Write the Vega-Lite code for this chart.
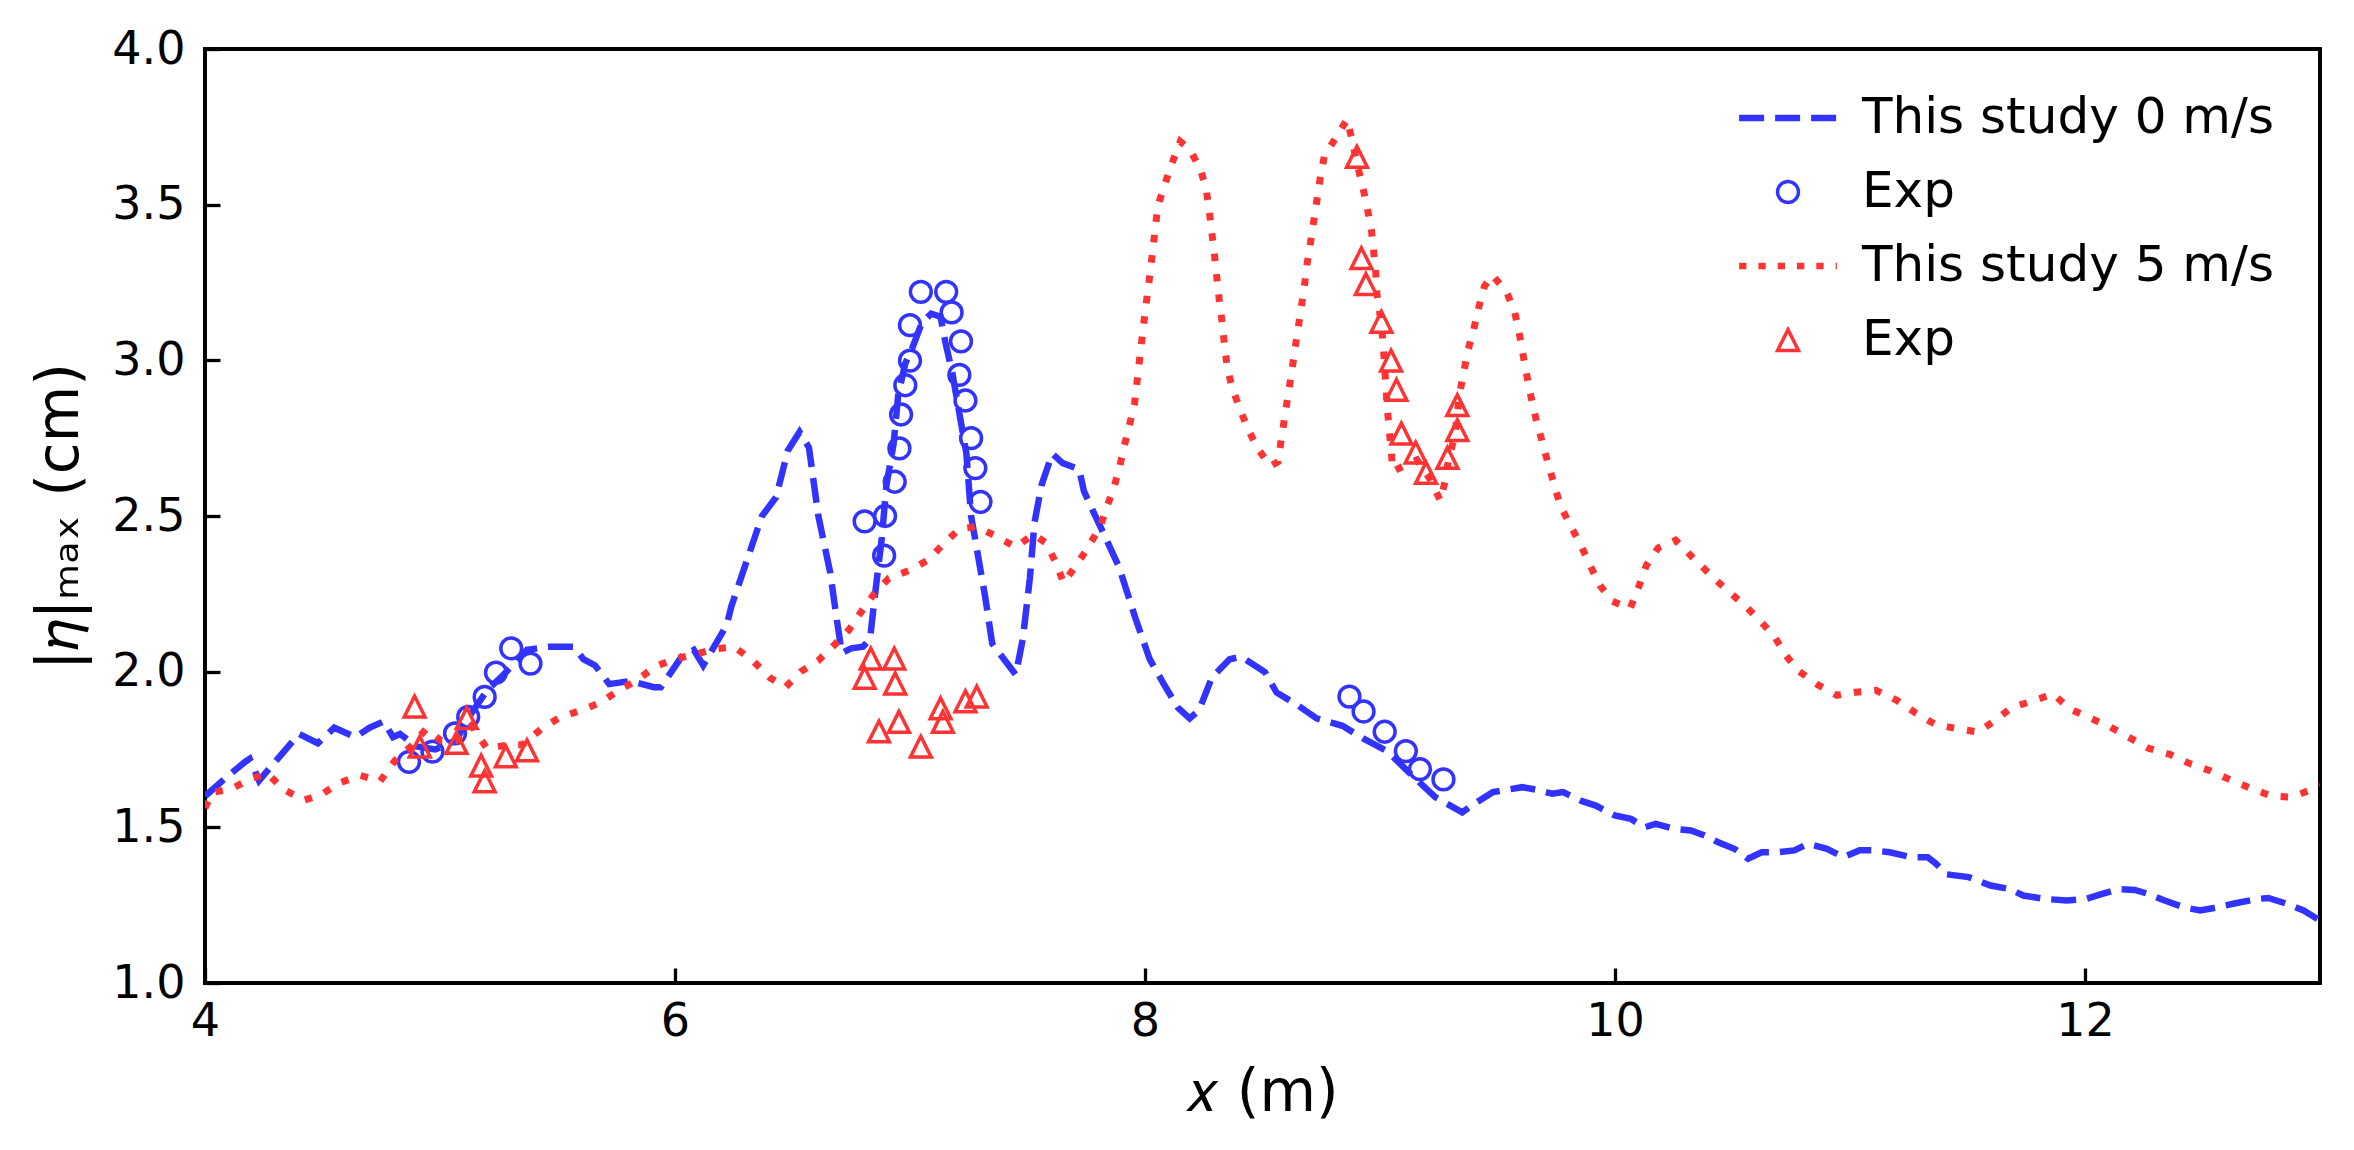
{
  "$schema": "https://vega.github.io/schema/vega-lite/v6.json",
  "width": 2115,
  "height": 934,
  "autosize": "none",
  "padding": {"left": 205, "top": 49, "right": 34, "bottom": 167},
  "background": "white",
  "data": {
    "values": [
      {"x": 4.00, "y": 1.60, "series": "sim0"},
      {"x": 4.03, "y": 1.62, "series": "sim0"},
      {"x": 4.09, "y": 1.66, "series": "sim0"},
      {"x": 4.17, "y": 1.71, "series": "sim0"},
      {"x": 4.19, "y": 1.72, "series": "sim0"},
      {"x": 4.23, "y": 1.65, "series": "sim0"},
      {"x": 4.40, "y": 1.80, "series": "sim0"},
      {"x": 4.48, "y": 1.77, "series": "sim0"},
      {"x": 4.55, "y": 1.82, "series": "sim0"},
      {"x": 4.64, "y": 1.79, "series": "sim0"},
      {"x": 4.70, "y": 1.82, "series": "sim0"},
      {"x": 4.76, "y": 1.84, "series": "sim0"},
      {"x": 4.80, "y": 1.79, "series": "sim0"},
      {"x": 4.83, "y": 1.80, "series": "sim0"},
      {"x": 4.90, "y": 1.76, "series": "sim0"},
      {"x": 4.98, "y": 1.75, "series": "sim0"},
      {"x": 5.07, "y": 1.78, "series": "sim0"},
      {"x": 5.11, "y": 1.84, "series": "sim0"},
      {"x": 5.20, "y": 1.94, "series": "sim0"},
      {"x": 5.27, "y": 1.99, "series": "sim0"},
      {"x": 5.37, "y": 2.07, "series": "sim0"},
      {"x": 5.46, "y": 2.08, "series": "sim0"},
      {"x": 5.57, "y": 2.08, "series": "sim0"},
      {"x": 5.61, "y": 2.04, "series": "sim0"},
      {"x": 5.66, "y": 2.02, "series": "sim0"},
      {"x": 5.72, "y": 1.96, "series": "sim0"},
      {"x": 5.81, "y": 1.97, "series": "sim0"},
      {"x": 5.91, "y": 1.95, "series": "sim0"},
      {"x": 5.94, "y": 1.95, "series": "sim0"},
      {"x": 6.03, "y": 2.05, "series": "sim0"},
      {"x": 6.08, "y": 2.07, "series": "sim0"},
      {"x": 6.12, "y": 2.02, "series": "sim0"},
      {"x": 6.22, "y": 2.15, "series": "sim0"},
      {"x": 6.24, "y": 2.21, "series": "sim0"},
      {"x": 6.37, "y": 2.50, "series": "sim0"},
      {"x": 6.43, "y": 2.56, "series": "sim0"},
      {"x": 6.48, "y": 2.71, "series": "sim0"},
      {"x": 6.53, "y": 2.77, "series": "sim0"},
      {"x": 6.57, "y": 2.72, "series": "sim0"},
      {"x": 6.61, "y": 2.50, "series": "sim0"},
      {"x": 6.66, "y": 2.32, "series": "sim0"},
      {"x": 6.69, "y": 2.16, "series": "sim0"},
      {"x": 6.71, "y": 2.06, "series": "sim0"},
      {"x": 6.75, "y": 2.075, "series": "sim0"},
      {"x": 6.80, "y": 2.08, "series": "sim0"},
      {"x": 6.83, "y": 2.105, "series": "sim0"},
      {"x": 6.85, "y": 2.24, "series": "sim0"},
      {"x": 6.88, "y": 2.43, "series": "sim0"},
      {"x": 6.90, "y": 2.60, "series": "sim0"},
      {"x": 6.93, "y": 2.73, "series": "sim0"},
      {"x": 6.95, "y": 2.89, "series": "sim0"},
      {"x": 6.98, "y": 2.99, "series": "sim0"},
      {"x": 7.01, "y": 3.04, "series": "sim0"},
      {"x": 7.05, "y": 3.12, "series": "sim0"},
      {"x": 7.09, "y": 3.15, "series": "sim0"},
      {"x": 7.13, "y": 3.14, "series": "sim0"},
      {"x": 7.15, "y": 3.06, "series": "sim0"},
      {"x": 7.18, "y": 2.96, "series": "sim0"},
      {"x": 7.21, "y": 2.83, "series": "sim0"},
      {"x": 7.24, "y": 2.70, "series": "sim0"},
      {"x": 7.26, "y": 2.50, "series": "sim0"},
      {"x": 7.29, "y": 2.37, "series": "sim0"},
      {"x": 7.32, "y": 2.24, "series": "sim0"},
      {"x": 7.35, "y": 2.09, "series": "sim0"},
      {"x": 7.40, "y": 2.04, "series": "sim0"},
      {"x": 7.45, "y": 1.99, "series": "sim0"},
      {"x": 7.48, "y": 2.105, "series": "sim0"},
      {"x": 7.51, "y": 2.30, "series": "sim0"},
      {"x": 7.53, "y": 2.48, "series": "sim0"},
      {"x": 7.56, "y": 2.60, "series": "sim0"},
      {"x": 7.605, "y": 2.70, "series": "sim0"},
      {"x": 7.65, "y": 2.67, "series": "sim0"},
      {"x": 7.72, "y": 2.65, "series": "sim0"},
      {"x": 7.74, "y": 2.58, "series": "sim0"},
      {"x": 7.77, "y": 2.53, "series": "sim0"},
      {"x": 7.82, "y": 2.45, "series": "sim0"},
      {"x": 7.89, "y": 2.335, "series": "sim0"},
      {"x": 7.96, "y": 2.17, "series": "sim0"},
      {"x": 8.02, "y": 2.04, "series": "sim0"},
      {"x": 8.08, "y": 1.96, "series": "sim0"},
      {"x": 8.14, "y": 1.884, "series": "sim0"},
      {"x": 8.19, "y": 1.85, "series": "sim0"},
      {"x": 8.23, "y": 1.876, "series": "sim0"},
      {"x": 8.285, "y": 1.982, "series": "sim0"},
      {"x": 8.36, "y": 2.04, "series": "sim0"},
      {"x": 8.41, "y": 2.048, "series": "sim0"},
      {"x": 8.51, "y": 1.999, "series": "sim0"},
      {"x": 8.56, "y": 1.933, "series": "sim0"},
      {"x": 8.65, "y": 1.892, "series": "sim0"},
      {"x": 8.73, "y": 1.85, "series": "sim0"},
      {"x": 8.84, "y": 1.826, "series": "sim0"},
      {"x": 8.93, "y": 1.785, "series": "sim0"},
      {"x": 9.03, "y": 1.745, "series": "sim0"},
      {"x": 9.12, "y": 1.679, "series": "sim0"},
      {"x": 9.235, "y": 1.597, "series": "sim0"},
      {"x": 9.35, "y": 1.548, "series": "sim0"},
      {"x": 9.41, "y": 1.58, "series": "sim0"},
      {"x": 9.48, "y": 1.613, "series": "sim0"},
      {"x": 9.605, "y": 1.629, "series": "sim0"},
      {"x": 9.663, "y": 1.621, "series": "sim0"},
      {"x": 9.732, "y": 1.608, "series": "sim0"},
      {"x": 9.779, "y": 1.613, "series": "sim0"},
      {"x": 9.86, "y": 1.584, "series": "sim0"},
      {"x": 9.918, "y": 1.57, "series": "sim0"},
      {"x": 9.999, "y": 1.538, "series": "sim0"},
      {"x": 10.068, "y": 1.527, "series": "sim0"},
      {"x": 10.126, "y": 1.50, "series": "sim0"},
      {"x": 10.173, "y": 1.511, "series": "sim0"},
      {"x": 10.254, "y": 1.495, "series": "sim0"},
      {"x": 10.323, "y": 1.49, "series": "sim0"},
      {"x": 10.381, "y": 1.474, "series": "sim0"},
      {"x": 10.439, "y": 1.452, "series": "sim0"},
      {"x": 10.508, "y": 1.431, "series": "sim0"},
      {"x": 10.566, "y": 1.399, "series": "sim0"},
      {"x": 10.624, "y": 1.42, "series": "sim0"},
      {"x": 10.694, "y": 1.42, "series": "sim0"},
      {"x": 10.763, "y": 1.426, "series": "sim0"},
      {"x": 10.821, "y": 1.447, "series": "sim0"},
      {"x": 10.902, "y": 1.431, "series": "sim0"},
      {"x": 10.972, "y": 1.404, "series": "sim0"},
      {"x": 11.041, "y": 1.426, "series": "sim0"},
      {"x": 11.099, "y": 1.426, "series": "sim0"},
      {"x": 11.169, "y": 1.42, "series": "sim0"},
      {"x": 11.262, "y": 1.404, "series": "sim0"},
      {"x": 11.331, "y": 1.404, "series": "sim0"},
      {"x": 11.366, "y": 1.383, "series": "sim0"},
      {"x": 11.412, "y": 1.349, "series": "sim0"},
      {"x": 11.505, "y": 1.34, "series": "sim0"},
      {"x": 11.598, "y": 1.313, "series": "sim0"},
      {"x": 11.679, "y": 1.302, "series": "sim0"},
      {"x": 11.737, "y": 1.281, "series": "sim0"},
      {"x": 11.83, "y": 1.27, "series": "sim0"},
      {"x": 11.922, "y": 1.265, "series": "sim0"},
      {"x": 12.004, "y": 1.27, "series": "sim0"},
      {"x": 12.073, "y": 1.286, "series": "sim0"},
      {"x": 12.143, "y": 1.302, "series": "sim0"},
      {"x": 12.212, "y": 1.299, "series": "sim0"},
      {"x": 12.27, "y": 1.286, "series": "sim0"},
      {"x": 12.339, "y": 1.265, "series": "sim0"},
      {"x": 12.42, "y": 1.243, "series": "sim0"},
      {"x": 12.49, "y": 1.233, "series": "sim0"},
      {"x": 12.548, "y": 1.241, "series": "sim0"},
      {"x": 12.64, "y": 1.256, "series": "sim0"},
      {"x": 12.733, "y": 1.27, "series": "sim0"},
      {"x": 12.78, "y": 1.273, "series": "sim0"},
      {"x": 12.861, "y": 1.254, "series": "sim0"},
      {"x": 12.93, "y": 1.233, "series": "sim0"},
      {"x": 13.0, "y": 1.201, "series": "sim0"},

      {"x": 4.868, "y": 1.71, "series": "exp0"},
      {"x": 4.968, "y": 1.743, "series": "exp0"},
      {"x": 5.064, "y": 1.802, "series": "exp0"},
      {"x": 5.12, "y": 1.855, "series": "exp0"},
      {"x": 5.19, "y": 1.919, "series": "exp0"},
      {"x": 5.238, "y": 1.997, "series": "exp0"},
      {"x": 5.303, "y": 2.075, "series": "exp0"},
      {"x": 5.385, "y": 2.026, "series": "exp0"},
      {"x": 6.807, "y": 2.483, "series": "exp0"},
      {"x": 6.894, "y": 2.50, "series": "exp0"},
      {"x": 6.89, "y": 2.373, "series": "exp0"},
      {"x": 6.935, "y": 2.61, "series": "exp0"},
      {"x": 6.955, "y": 2.717, "series": "exp0"},
      {"x": 6.962, "y": 2.826, "series": "exp0"},
      {"x": 6.98, "y": 2.92, "series": "exp0"},
      {"x": 7.00, "y": 2.999, "series": "exp0"},
      {"x": 7.00, "y": 3.113, "series": "exp0"},
      {"x": 7.046, "y": 3.22, "series": "exp0"},
      {"x": 7.154, "y": 3.22, "series": "exp0"},
      {"x": 7.177, "y": 3.154, "series": "exp0"},
      {"x": 7.217, "y": 3.061, "series": "exp0"},
      {"x": 7.21, "y": 2.953, "series": "exp0"},
      {"x": 7.236, "y": 2.871, "series": "exp0"},
      {"x": 7.26, "y": 2.75, "series": "exp0"},
      {"x": 7.278, "y": 2.654, "series": "exp0"},
      {"x": 7.30, "y": 2.545, "series": "exp0"},
      {"x": 8.87, "y": 1.92, "series": "exp0"},
      {"x": 8.93, "y": 1.872, "series": "exp0"},
      {"x": 9.02, "y": 1.807, "series": "exp0"},
      {"x": 9.11, "y": 1.745, "series": "exp0"},
      {"x": 9.17, "y": 1.687, "series": "exp0"},
      {"x": 9.27, "y": 1.654, "series": "exp0"},

      {"x": 4.00, "y": 1.562, "series": "sim5"},
      {"x": 4.03, "y": 1.612, "series": "sim5"},
      {"x": 4.115, "y": 1.624, "series": "sim5"},
      {"x": 4.19, "y": 1.655, "series": "sim5"},
      {"x": 4.267, "y": 1.673, "series": "sim5"},
      {"x": 4.33, "y": 1.624, "series": "sim5"},
      {"x": 4.42, "y": 1.587, "series": "sim5"},
      {"x": 4.495, "y": 1.605, "series": "sim5"},
      {"x": 4.57, "y": 1.642, "series": "sim5"},
      {"x": 4.66, "y": 1.667, "series": "sim5"},
      {"x": 4.745, "y": 1.648, "series": "sim5"},
      {"x": 4.81, "y": 1.716, "series": "sim5"},
      {"x": 4.875, "y": 1.759, "series": "sim5"},
      {"x": 4.94, "y": 1.815, "series": "sim5"},
      {"x": 5.005, "y": 1.778, "series": "sim5"},
      {"x": 5.07, "y": 1.778, "series": "sim5"},
      {"x": 5.135, "y": 1.827, "series": "sim5"},
      {"x": 5.20, "y": 1.753, "series": "sim5"},
      {"x": 5.29, "y": 1.765, "series": "sim5"},
      {"x": 5.35, "y": 1.765, "series": "sim5"},
      {"x": 5.43, "y": 1.815, "series": "sim5"},
      {"x": 5.505, "y": 1.851, "series": "sim5"},
      {"x": 5.60, "y": 1.876, "series": "sim5"},
      {"x": 5.68, "y": 1.90, "series": "sim5"},
      {"x": 5.755, "y": 1.937, "series": "sim5"},
      {"x": 5.84, "y": 1.974, "series": "sim5"},
      {"x": 5.917, "y": 2.017, "series": "sim5"},
      {"x": 6.004, "y": 2.042, "series": "sim5"},
      {"x": 6.08, "y": 2.054, "series": "sim5"},
      {"x": 6.167, "y": 2.073, "series": "sim5"},
      {"x": 6.253, "y": 2.079, "series": "sim5"},
      {"x": 6.33, "y": 2.036, "series": "sim5"},
      {"x": 6.405, "y": 1.98, "series": "sim5"},
      {"x": 6.47, "y": 1.95, "series": "sim5"},
      {"x": 6.535, "y": 2.00, "series": "sim5"},
      {"x": 6.61, "y": 2.036, "series": "sim5"},
      {"x": 6.677, "y": 2.085, "series": "sim5"},
      {"x": 6.74, "y": 2.134, "series": "sim5"},
      {"x": 6.78, "y": 2.179, "series": "sim5"},
      {"x": 6.85, "y": 2.253, "series": "sim5"},
      {"x": 6.91, "y": 2.30, "series": "sim5"},
      {"x": 7.00, "y": 2.326, "series": "sim5"},
      {"x": 7.08, "y": 2.36, "series": "sim5"},
      {"x": 7.145, "y": 2.413, "series": "sim5"},
      {"x": 7.21, "y": 2.458, "series": "sim5"},
      {"x": 7.28, "y": 2.466, "series": "sim5"},
      {"x": 7.36, "y": 2.438, "series": "sim5"},
      {"x": 7.45, "y": 2.40, "series": "sim5"},
      {"x": 7.525, "y": 2.441, "series": "sim5"},
      {"x": 7.58, "y": 2.413, "series": "sim5"},
      {"x": 7.62, "y": 2.351, "series": "sim5"},
      {"x": 7.654, "y": 2.285, "series": "sim5"},
      {"x": 7.70, "y": 2.335, "series": "sim5"},
      {"x": 7.745, "y": 2.384, "series": "sim5"},
      {"x": 7.81, "y": 2.466, "series": "sim5"},
      {"x": 7.838, "y": 2.53, "series": "sim5"},
      {"x": 7.867, "y": 2.589, "series": "sim5"},
      {"x": 7.892, "y": 2.658, "series": "sim5"},
      {"x": 7.912, "y": 2.725, "series": "sim5"},
      {"x": 7.935, "y": 2.795, "series": "sim5"},
      {"x": 7.956, "y": 2.864, "series": "sim5"},
      {"x": 7.977, "y": 3.004, "series": "sim5"},
      {"x": 7.999, "y": 3.146, "series": "sim5"},
      {"x": 8.023, "y": 3.288, "series": "sim5"},
      {"x": 8.044, "y": 3.427, "series": "sim5"},
      {"x": 8.055, "y": 3.497, "series": "sim5"},
      {"x": 8.084, "y": 3.565, "series": "sim5"},
      {"x": 8.115, "y": 3.633, "series": "sim5"},
      {"x": 8.15, "y": 3.703, "series": "sim5"},
      {"x": 8.19, "y": 3.678, "series": "sim5"},
      {"x": 8.236, "y": 3.614, "series": "sim5"},
      {"x": 8.261, "y": 3.547, "series": "sim5"},
      {"x": 8.274, "y": 3.476, "series": "sim5"},
      {"x": 8.285, "y": 3.406, "series": "sim5"},
      {"x": 8.296, "y": 3.335, "series": "sim5"},
      {"x": 8.306, "y": 3.263, "series": "sim5"},
      {"x": 8.316, "y": 3.194, "series": "sim5"},
      {"x": 8.328, "y": 3.123, "series": "sim5"},
      {"x": 8.338, "y": 3.052, "series": "sim5"},
      {"x": 8.349, "y": 2.983, "series": "sim5"},
      {"x": 8.37, "y": 2.913, "series": "sim5"},
      {"x": 8.403, "y": 2.846, "series": "sim5"},
      {"x": 8.437, "y": 2.781, "series": "sim5"},
      {"x": 8.48, "y": 2.717, "series": "sim5"},
      {"x": 8.533, "y": 2.66, "series": "sim5"},
      {"x": 8.566, "y": 2.674, "series": "sim5"},
      {"x": 8.58, "y": 2.746, "series": "sim5"},
      {"x": 8.594, "y": 2.816, "series": "sim5"},
      {"x": 8.608, "y": 2.885, "series": "sim5"},
      {"x": 8.623, "y": 2.956, "series": "sim5"},
      {"x": 8.636, "y": 3.026, "series": "sim5"},
      {"x": 8.65, "y": 3.095, "series": "sim5"},
      {"x": 8.664, "y": 3.166, "series": "sim5"},
      {"x": 8.678, "y": 3.237, "series": "sim5"},
      {"x": 8.689, "y": 3.307, "series": "sim5"},
      {"x": 8.704, "y": 3.377, "series": "sim5"},
      {"x": 8.718, "y": 3.447, "series": "sim5"},
      {"x": 8.732, "y": 3.517, "series": "sim5"},
      {"x": 8.746, "y": 3.587, "series": "sim5"},
      {"x": 8.763, "y": 3.656, "series": "sim5"},
      {"x": 8.813, "y": 3.716, "series": "sim5"},
      {"x": 8.86, "y": 3.774, "series": "sim5"},
      {"x": 8.884, "y": 3.699, "series": "sim5"},
      {"x": 8.902, "y": 3.631, "series": "sim5"},
      {"x": 8.926, "y": 3.56, "series": "sim5"},
      {"x": 8.945, "y": 3.492, "series": "sim5"},
      {"x": 8.963, "y": 3.421, "series": "sim5"},
      {"x": 8.973, "y": 3.351, "series": "sim5"},
      {"x": 8.982, "y": 3.282, "series": "sim5"},
      {"x": 8.987, "y": 3.212, "series": "sim5"},
      {"x": 9.001, "y": 3.142, "series": "sim5"},
      {"x": 9.011, "y": 3.073, "series": "sim5"},
      {"x": 9.018, "y": 3.001, "series": "sim5"},
      {"x": 9.024, "y": 2.928, "series": "sim5"},
      {"x": 9.03, "y": 2.856, "series": "sim5"},
      {"x": 9.038, "y": 2.787, "series": "sim5"},
      {"x": 9.047, "y": 2.714, "series": "sim5"},
      {"x": 9.055, "y": 2.644, "series": "sim5"},
      {"x": 9.112, "y": 2.664, "series": "sim5"},
      {"x": 9.157, "y": 2.68, "series": "sim5"},
      {"x": 9.214, "y": 2.617, "series": "sim5"},
      {"x": 9.257, "y": 2.549, "series": "sim5"},
      {"x": 9.278, "y": 2.615, "series": "sim5"},
      {"x": 9.292, "y": 2.685, "series": "sim5"},
      {"x": 9.318, "y": 2.755, "series": "sim5"},
      {"x": 9.339, "y": 2.894, "series": "sim5"},
      {"x": 9.356, "y": 2.96, "series": "sim5"},
      {"x": 9.374, "y": 3.031, "series": "sim5"},
      {"x": 9.399, "y": 3.10, "series": "sim5"},
      {"x": 9.42, "y": 3.169, "series": "sim5"},
      {"x": 9.444, "y": 3.237, "series": "sim5"},
      {"x": 9.477, "y": 3.274, "series": "sim5"},
      {"x": 9.538, "y": 3.221, "series": "sim5"},
      {"x": 9.573, "y": 3.156, "series": "sim5"},
      {"x": 9.593, "y": 3.085, "series": "sim5"},
      {"x": 9.609, "y": 3.017, "series": "sim5"},
      {"x": 9.626, "y": 2.947, "series": "sim5"},
      {"x": 9.644, "y": 2.878, "series": "sim5"},
      {"x": 9.665, "y": 2.808, "series": "sim5"},
      {"x": 9.69, "y": 2.739, "series": "sim5"},
      {"x": 9.715, "y": 2.669, "series": "sim5"},
      {"x": 9.74, "y": 2.604, "series": "sim5"},
      {"x": 9.767, "y": 2.534, "series": "sim5"},
      {"x": 9.81, "y": 2.47, "series": "sim5"},
      {"x": 9.855, "y": 2.406, "series": "sim5"},
      {"x": 9.894, "y": 2.341, "series": "sim5"},
      {"x": 9.936, "y": 2.277, "series": "sim5"},
      {"x": 9.987, "y": 2.227, "series": "sim5"},
      {"x": 10.064, "y": 2.202, "series": "sim5"},
      {"x": 10.103, "y": 2.277, "series": "sim5"},
      {"x": 10.133, "y": 2.341, "series": "sim5"},
      {"x": 10.184, "y": 2.398, "series": "sim5"},
      {"x": 10.258, "y": 2.422, "series": "sim5"},
      {"x": 10.335, "y": 2.363, "series": "sim5"},
      {"x": 10.404, "y": 2.313, "series": "sim5"},
      {"x": 10.474, "y": 2.263, "series": "sim5"},
      {"x": 10.548, "y": 2.216, "series": "sim5"},
      {"x": 10.613, "y": 2.167, "series": "sim5"},
      {"x": 10.678, "y": 2.114, "series": "sim5"},
      {"x": 10.724, "y": 2.055, "series": "sim5"},
      {"x": 10.782, "y": 2.002, "series": "sim5"},
      {"x": 10.863, "y": 1.958, "series": "sim5"},
      {"x": 10.944, "y": 1.924, "series": "sim5"},
      {"x": 11.025, "y": 1.934, "series": "sim5"},
      {"x": 11.111, "y": 1.94, "series": "sim5"},
      {"x": 11.199, "y": 1.908, "series": "sim5"},
      {"x": 11.278, "y": 1.868, "series": "sim5"},
      {"x": 11.361, "y": 1.831, "series": "sim5"},
      {"x": 11.454, "y": 1.817, "series": "sim5"},
      {"x": 11.545, "y": 1.806, "series": "sim5"},
      {"x": 11.616, "y": 1.843, "series": "sim5"},
      {"x": 11.69, "y": 1.886, "series": "sim5"},
      {"x": 11.779, "y": 1.906, "series": "sim5"},
      {"x": 11.864, "y": 1.929, "series": "sim5"},
      {"x": 11.934, "y": 1.881, "series": "sim5"},
      {"x": 12.022, "y": 1.851, "series": "sim5"},
      {"x": 12.108, "y": 1.822, "series": "sim5"},
      {"x": 12.189, "y": 1.788, "series": "sim5"},
      {"x": 12.27, "y": 1.754, "series": "sim5"},
      {"x": 12.363, "y": 1.734, "series": "sim5"},
      {"x": 12.448, "y": 1.704, "series": "sim5"},
      {"x": 12.536, "y": 1.681, "series": "sim5"},
      {"x": 12.617, "y": 1.653, "series": "sim5"},
      {"x": 12.71, "y": 1.624, "series": "sim5"},
      {"x": 12.796, "y": 1.60, "series": "sim5"},
      {"x": 12.877, "y": 1.597, "series": "sim5"},
      {"x": 12.953, "y": 1.618, "series": "sim5"},
      {"x": 13.0, "y": 1.634, "series": "sim5"},

      {"x": 4.892, "y": 1.888, "series": "exp5"},
      {"x": 4.914, "y": 1.759, "series": "exp5"},
      {"x": 5.07, "y": 1.771, "series": "exp5"},
      {"x": 5.114, "y": 1.851, "series": "exp5"},
      {"x": 5.175, "y": 1.698, "series": "exp5"},
      {"x": 5.19, "y": 1.648, "series": "exp5"},
      {"x": 5.28, "y": 1.728, "series": "exp5"},
      {"x": 5.37, "y": 1.747, "series": "exp5"},
      {"x": 6.807, "y": 1.98, "series": "exp5"},
      {"x": 6.833, "y": 2.042, "series": "exp5"},
      {"x": 6.933, "y": 2.042, "series": "exp5"},
      {"x": 6.937, "y": 1.962, "series": "exp5"},
      {"x": 6.868, "y": 1.808, "series": "exp5"},
      {"x": 6.953, "y": 1.839, "series": "exp5"},
      {"x": 7.046, "y": 1.759, "series": "exp5"},
      {"x": 7.13, "y": 1.882, "series": "exp5"},
      {"x": 7.14, "y": 1.839, "series": "exp5"},
      {"x": 7.236, "y": 1.905, "series": "exp5"},
      {"x": 7.284, "y": 1.92, "series": "exp5"},
      {"x": 8.902, "y": 3.654, "series": "exp5"},
      {"x": 8.921, "y": 3.328, "series": "exp5"},
      {"x": 8.94, "y": 3.245, "series": "exp5"},
      {"x": 9.006, "y": 3.124, "series": "exp5"},
      {"x": 9.047, "y": 2.999, "series": "exp5"},
      {"x": 9.07, "y": 2.905, "series": "exp5"},
      {"x": 9.091, "y": 2.765, "series": "exp5"},
      {"x": 9.152, "y": 2.704, "series": "exp5"},
      {"x": 9.196, "y": 2.639, "series": "exp5"},
      {"x": 9.287, "y": 2.687, "series": "exp5"},
      {"x": 9.329, "y": 2.776, "series": "exp5"},
      {"x": 9.329, "y": 2.856, "series": "exp5"}
    ]
  },
  "encoding": {
    "x": {
      "field": "x",
      "type": "quantitative",
      "scale": {"domain": [4, 13], "nice": false, "zero": false},
      "axis": {
        "title": "𝑥 (m)",
        "values": [4, 6, 8, 10, 12],
        "format": "d",
        "titleX": 1057,
        "titleY": 127,
        "titleBaseline": "alphabetic",
        "titleAlign": "center"
      }
    },
    "y": {
      "field": "y",
      "type": "quantitative",
      "scale": {"domain": [1, 4], "nice": false, "zero": false},
      "axis": {
        "title": "|𝜂|ₘₐₓ (cm)",
        "values": [1, 1.5, 2, 2.5, 3, 3.5, 4],
        "format": ".1f",
        "titleAngle": 270,
        "titleX": -128,
        "titleY": 467,
        "titleBaseline": "alphabetic",
        "titleAlign": "center"
      }
    },
    "color": {
      "field": "series",
      "type": "nominal",
      "scale": {
        "domain": ["sim0", "exp0", "sim5", "exp5"],
        "range": ["#3333ff", "#3333ff", "#ff3333", "#ff3333"]
      },
      "legend": {
        "orient": "none",
        "legendX": 1558,
        "legendY": 44,
        "title": null,
        "padding": 0,
        "labelExpr": "datum.value == 'sim0' ? 'This study 0 m/s' : datum.value == 'sim5' ? 'This study 5 m/s' : 'Exp'",
        "labelFont": "DejaVu Sans",
        "labelFontSize": 50,
        "labelColor": "black",
        "labelOffset": 49,
        "labelLimit": 1000,
        "symbolSize": 433,
        "symbolStrokeWidth": 4,
        "rowPadding": 24,
        "encode": {
          "symbols": {
            "update": {
              "shape": {"signal": "datum.value == 'exp0' ? 'circle' : datum.value == 'exp5' ? 'M0,-1L-1,1L1,1Z' : 'M-4.7,0L4.7,0'"},
              "strokeDash": {"signal": "datum.value == 'sim0' ? [25, 11] : datum.value == 'sim5' ? [7.3, 12] : [1, 0]"},
              "strokeWidth": {"signal": "datum.value == 'sim0' || datum.value == 'sim5' ? 6.5 : 3.5"},
              "stroke": {"signal": "datum.value == 'sim0' || datum.value == 'exp0' ? '#3333ff' : '#ff3333'"},
              "fill": {"value": "transparent"},
              "opacity": {"value": 1}
            }
          }
        }
      }
    }
  },
  "layer": [
    {
      "transform": [{"filter": "datum.series == 'sim0'"}],
      "mark": {"type": "line", "strokeWidth": 6.5, "strokeDash": [25, 11], "clip": true}
    },
    {
      "transform": [{"filter": "datum.series == 'exp0'"}],
      "mark": {"type": "point", "shape": "circle", "filled": false, "size": 433, "strokeWidth": 3.5, "opacity": 1}
    },
    {
      "transform": [{"filter": "datum.series == 'sim5'"}],
      "mark": {"type": "line", "strokeWidth": 7, "strokeDash": [7.5, 13], "clip": true}
    },
    {
      "transform": [{"filter": "datum.series == 'exp5'"}],
      "mark": {"type": "point", "shape": "M0,-1L-1,1L1,1Z", "filled": false, "size": 433, "strokeWidth": 3.5, "opacity": 1}
    }
  ],
  "config": {
    "view": {"stroke": "black", "strokeWidth": 4},
    "axis": {
      "grid": false,
      "domain": false,
      "ticks": true,
      "tickSize": -15,
      "tickWidth": 3.3,
      "tickColor": "black",
      "labelFont": "DejaVu Sans",
      "labelFontSize": 46,
      "labelColor": "black",
      "titleFont": "DejaVu Sans",
      "titleFontSize": 58,
      "titleFontWeight": "normal",
      "titleColor": "black"
    },
    "axisX": {"labelPadding": 31, "labelFlush": false},
    "axisY": {"labelPadding": 35}
  }
}
